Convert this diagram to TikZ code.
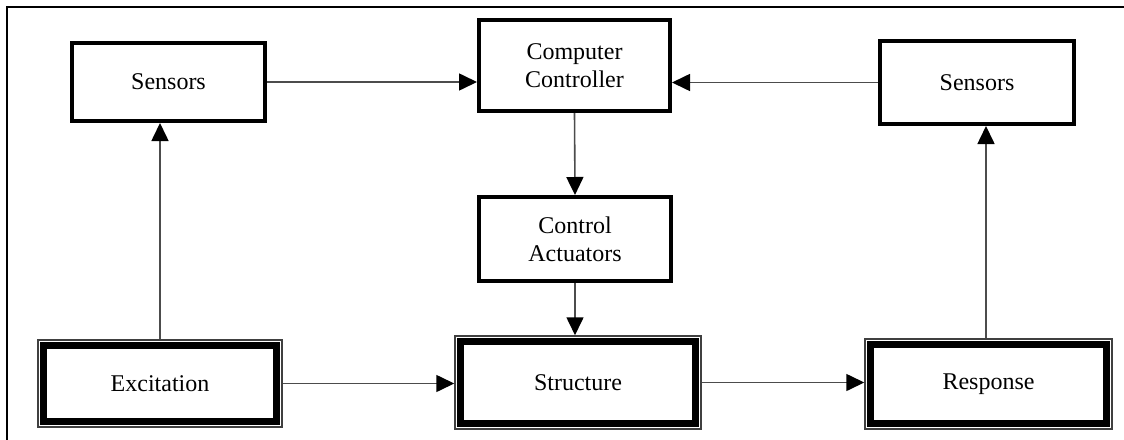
\documentclass[tikz,border=0pt]{standalone}
\usepackage{fontspec}
\setmainfont{Liberation Serif}
\usetikzlibrary{arrows.meta}
\begin{document}
\begin{tikzpicture}[x=1pt,y=-1pt,
  every node/.style={font=\fontsize{24}{28}\selectfont, align=center, inner sep=0pt},
  single/.style={draw=black, line width=4pt},
  dblouter/.style={draw=black!75, line width=1.5pt},
  conn/.style={draw=black!70, line width=1.6pt, -{Triangle[length=18pt,width=17pt,color=black]}}
]
\useasboundingbox (0,0) rectangle (1124,439);
\fill[white] (0,0) rectangle (1124,439);
\draw[line width=2pt] (6.5,445) -- (6.5,6.5) -- (1130,6.5);

\node[single, minimum width=193pt, minimum height=78pt] (sensL) at (168.5,82) {Sensors};
\node[single, minimum width=191pt, minimum height=91pt] (ctrl) at (574.5,65.5) {Computer\\Controller};
\node[single, minimum width=192pt, minimum height=84pt] (act) at (575,239) {Control\\Actuators};
\node[single, minimum width=194pt, minimum height=83pt] (sensR) at (977,82.5) {Sensors};

\node[dblouter, minimum width=244pt, minimum height=87pt] (exc) at (160,383.5) {Excitation};
\node[dblouter, minimum width=246pt, minimum height=93pt] (struct) at (578,382.5) {Structure};
\node[dblouter, minimum width=247pt, minimum height=90pt] (resp) at (988.5,384) {Response};

\foreach \n in {exc,struct,resp}{
  \draw[line width=7.5pt] ([xshift=6.2pt,yshift=-6.2pt]\n.north west) rectangle ([xshift=-6.2pt,yshift=6.2pt]\n.south east);
}

\draw[conn] (sensL.east) -- (sensL.east -| ctrl.west);
\draw[conn] (sensR.west) -- (sensR.west -| ctrl.east);
\draw[conn] (ctrl.south) -- (act.north);
\draw[conn] (act.south) -- (act.south |- struct.north);
\draw[conn] (exc.north) -- (exc.north |- sensL.south);
\draw[conn] ([xshift=-2.5pt]resp.north) -- ([xshift=-2.5pt]resp.north |- sensR.south);
\draw[conn] (exc.east) -- (exc.east -| struct.west);
\draw[conn] (struct.east) -- (struct.east -| resp.west);
\end{tikzpicture}
\end{document}
